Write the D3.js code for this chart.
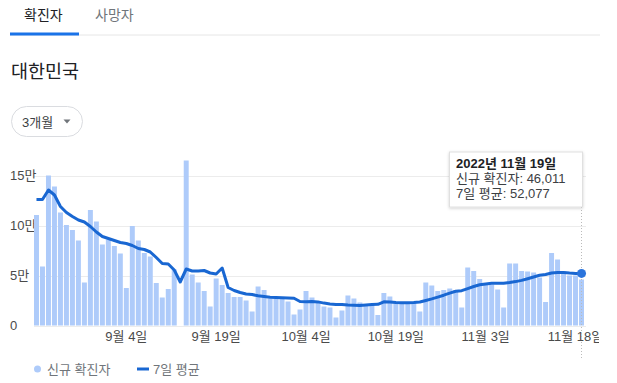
<!DOCTYPE html>
<html><head><meta charset="utf-8">
<script src="https://cdn.jsdelivr.net/npm/d3@7"></script>
<style>
html,body{margin:0;padding:0;background:#fff;}
svg{display:block;font-family:Arial,"Liberation Sans","Noto Sans CJK KR",sans-serif;}
</style></head>
<body>
<svg id="chart" width="617" height="383"></svg>
<script>
// ---- data ----
const startDate = "2022-08-20";
const endDate = "2022-11-19";
const newCases = [
 110500, 59000, 150000, 139000, 113000, 100500, 95500, 85000, 43000, 115500,
 104000, 81000, 86000, 79500, 72000, 37500, 99500, 85000, 72500, 69000,
 42500, 28000, 36500, 56000, null, 165000, 51000, 43000, 34500, 19000,
 47000, 40500, 32500, 28500, 28500, 25000, 14000, 39000, 35500, 27000,
 27000, 27000, 24000, 11000, 16000, 34500, 28000, 24500, 19000, 18000,
 8000, 15000, 30000, 27000, 23000, 21500, 21500, 10500, 32500, 29000,
 22000, 22000, 22000, 23000, 14000, 43000, 40000, 34500, 35500, 37000,
 35500, 18000, 58000, 54500, 46500, 42000, 41000, 36000, 18000, 62000,
 62000, 54500, 54000, 53000, 48000, 23500, 72500, 66000, 54000, 50000,
 50000, 46000
];
const avg7 = [
 126000, 126000, 135500, 130500, 119000, 113000, 109000, 105500, 103500, 99000,
 93500, 89000, 87000, 85000, 83000, 82000, 80000, 77000, 76000, 73500,
 68000, 62000, 61500, 55500, 43500, 56500, 54500, 54500, 55000, 52500,
 51500, 57500, 38000, 35000, 33000, 31500, 31000, 29700, 29000, 28300,
 28000, 27800, 27600, 27200, 24000, 23800, 23900, 23600, 22400, 21600,
 21100, 21000, 20400, 20200, 20000, 20400, 20900, 21200, 23700, 23600,
 22900, 22700, 22800, 23000, 23500, 25000, 26600, 28400, 30300, 32400,
 34200, 34800, 36900, 39000, 40700, 41600, 42200, 42300, 42300, 42900,
 43900, 45100, 46800, 48500, 50200, 51000, 52500, 53100, 53000, 52400,
 52000, 52077
];
const xTickDates = ["2022-09-04","2022-09-19","2022-10-04","2022-10-19","2022-11-03","2022-11-18"];
const xTickLabels = ["9월 4일","9월 19일","10월 4일","10월 19일","11월 3일","11월 18일"];
const yTicks = [0, 50000, 100000, 150000];
const yTickLabels = ["0","5만","10만","15만"];
const tabs = ["확진자","사망자"];
const titleText = "대한민국";
const rangeLabel = "3개월";
const legendLabels = ["신규 확진자","7일 평균"];
const tooltipLines = ["2022년 11월 19일","신규 확진자: 46,011","7일 평균: 52,077"];

// ---- build ----
const fmt = d3.utcFormat("%Y-%m-%d");
const parse = d3.utcParse("%Y-%m-%d");
const dates = d3.utcDay.range(parse(startDate), d3.utcDay.offset(parse(endDate), 1)).map(fmt);
const rows = dates.map((d, i) => ({date: d, cases: newCases[i], avg: avg7[i]}));

const svg = d3.select("#chart");
const C = {bar:"#aecbfa", line:"#1967d2", grid:"#ececec", axis:"#4a4a4a", sub:"#70757a", dark:"#202124"};

// tabs
svg.append("line").attr("x1",10).attr("x2",600).attr("y1",35).attr("y2",35).attr("stroke","#e6e6e6").attr("stroke-width",1);
svg.append("rect").attr("x",10).attr("y",32.5).attr("width",69).attr("height",3).attr("fill","#1a73e8");
svg.append("text").attr("x",24).attr("y",19.5).attr("font-size",14).attr("fill",C.dark).text(tabs[0]);
svg.append("text").attr("x",95).attr("y",19.5).attr("font-size",14).attr("fill",C.sub).text(tabs[1]);

// title
svg.append("text").attr("x",11).attr("y",77.5).attr("font-size",18.5).attr("fill",C.dark).text(titleText);

// dropdown
svg.append("rect").attr("x",11.5).attr("y",106.5).attr("width",71).attr("height",30).attr("rx",15)
  .attr("fill","#fff").attr("stroke","#dadce0");
svg.append("text").attr("x",22).attr("y",126.5).attr("font-size",13).attr("fill","#3c4043").text(rangeLabel);
svg.append("path").attr("d","M63.5,119.5 L70.5,119.5 L67,123.5 Z").attr("fill","#70757a");

// scales
const x = d3.scaleBand().domain(dates).range([34, 584]).paddingInner(0.17).paddingOuter(0);
const y = d3.scaleLinear().domain([0, 150000]).range([325.5, 175.5]);
const bw = x.bandwidth();

// grid
svg.append("g").selectAll("line").data(yTicks).join("line")
  .attr("x1",34).attr("x2",586).attr("y1",d=>Math.round(y(d))+0.5).attr("y2",d=>Math.round(y(d))+0.5)
  .attr("stroke",C.grid);

// y labels
svg.append("g").selectAll("text").data(yTicks).join("text")
  .attr("x",10).attr("y",d=>y(d)+4.5).attr("font-size",13).attr("fill",C.axis)
  .text((d,i)=>yTickLabels[i]);

// bars
svg.append("g").selectAll("rect").data(rows.filter(r=>r.cases!=null)).join("rect")
  .attr("x",d=>x(d.date)).attr("width",bw)
  .attr("y",d=>y(d.cases)).attr("height",d=>y(0)-y(d.cases))
  .attr("fill",C.bar);

// x axis labels
svg.append("clipPath").attr("id","xclip").append("rect").attr("x",0).attr("y",320).attr("width",599).attr("height",40);
const xAxis = d3.axisBottom(x).tickValues(xTickDates).tickSize(0).tickPadding(0)
  .tickFormat((d)=>xTickLabels[xTickDates.indexOf(d)]);
const gxWrap = svg.append("g").attr("clip-path","url(#xclip)");
const gx = gxWrap.append("g").attr("transform","translate(0,331)").call(xAxis);
gx.select(".domain").remove();
gx.selectAll("text").attr("font-size",13).attr("fill",C.axis).attr("dy","0.75em")
  .attr("font-family",'Arial,"Liberation Sans","Noto Sans CJK KR",sans-serif');

// hover dotted line
const last = rows[rows.length-1];
const lx = x(last.date)+bw/2;
svg.append("line").attr("x1",lx).attr("x2",lx).attr("y1",207).attr("y2",358)
  .attr("stroke","#bbb").attr("stroke-dasharray","1,2");

// avg line
const line = d3.line().x(d=>x(d.date)+bw/2).y(d=>y(d.avg)).curve(d3.curveLinear);
svg.append("path").datum(rows).attr("d",line).attr("fill","none").attr("stroke",C.line)
  .attr("stroke-width",3).attr("stroke-linejoin","round");
svg.append("circle").attr("cx",lx).attr("cy",y(last.avg)).attr("r",4.5).attr("fill","#2b74dc");

// tooltip
const defs = svg.append("defs");
const f = defs.append("filter").attr("id","sh").attr("x","-10%").attr("y","-10%").attr("width","130%").attr("height","140%");
f.append("feDropShadow").attr("dx",0).attr("dy",1).attr("stdDeviation",1.5).attr("flood-color","#000").attr("flood-opacity",0.18);
svg.append("rect").attr("x",449.5).attr("y",152).attr("width",133).attr("height",55)
  .attr("fill","#fff").attr("stroke","#e0e0e0").attr("filter","url(#sh)");
svg.append("text").attr("x",456).attr("y",167.5).attr("font-size",13).attr("font-weight","bold").attr("fill",C.dark).text(tooltipLines[0]);
svg.append("text").attr("x",456).attr("y",183).attr("font-size",13).attr("fill","#3c4043").text(tooltipLines[1]);
svg.append("text").attr("x",456).attr("y",198).attr("font-size",13).attr("fill","#3c4043").text(tooltipLines[2]);

// legend
svg.append("circle").attr("cx",37.5).attr("cy",369).attr("r",3.5).attr("fill",C.bar);
svg.append("text").attr("x",47).attr("y",373.5).attr("font-size",13).attr("fill",C.sub).text(legendLabels[0]);
svg.append("line").attr("x1",137).attr("x2",149).attr("y1",369).attr("y2",369).attr("stroke",C.line).attr("stroke-width",3);
svg.append("text").attr("x",153).attr("y",373.5).attr("font-size",13).attr("fill",C.sub).text(legendLabels[1]);
</script>
</body></html>
